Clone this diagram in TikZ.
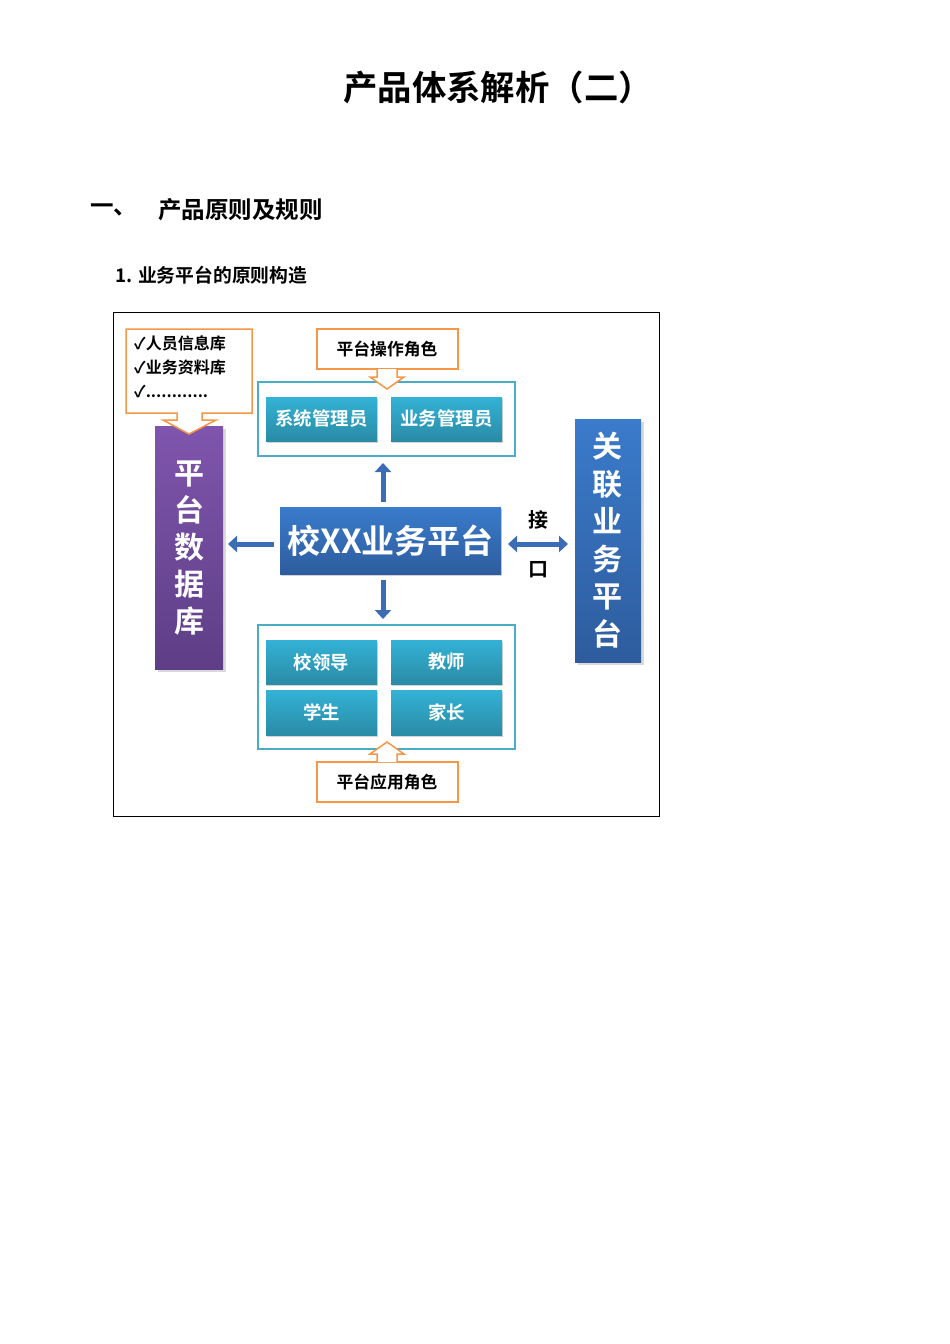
\documentclass[tikz,border=0pt]{standalone}
\usepackage{fontspec}
\setmainfont{Noto Sans CJK SC}
\newfontfamily\cjkb{Noto Sans CJK SC Bold}
\usetikzlibrary{shadows,arrows.meta}
\definecolor{orng}{HTML}{F79646}
\definecolor{tealc}{HTML}{4BACC6}
\definecolor{teal1}{HTML}{33B2D6}
\definecolor{teal2}{HTML}{2A8BA6}
\definecolor{blu1}{HTML}{3A7BCB}
\definecolor{blu2}{HTML}{2E5C9E}
\definecolor{pur1}{HTML}{7F55AD}
\definecolor{pur2}{HTML}{5E3E86}
\definecolor{arr}{HTML}{3A6DB5}
\tikzset{
 rolebox/.style={top color=teal1,bottom color=teal2,draw=none,drop shadow={opacity=0.35,shadow xshift=1pt,shadow yshift=-2pt},text=white,font=\cjkb\fontsize{18.4}{18.4}\selectfont},
 cont/.style={draw=tealc,line width=1.2pt},
 callout/.style={draw=orng,line width=1.5pt,fill=white,line join=miter},
 fatarrow/.style={draw=arr,line width=5pt,-{Triangle[length=9pt,width=16pt]}},
 lbl/.style={font=\cjkb, inner sep=0pt}
}
\begin{document}
\begin{tikzpicture}[x=1pt,y=-1pt]
\useasboundingbox (0,0) rectangle (950,1344);
\node[lbl,font=\cjkb\fontsize{34.4}{34.4}\selectfont] (title) at (498,87) {产品体系解析（二）};
\node[lbl,anchor=west,font=\cjkb\fontsize{23.5}{23.5}\selectfont] (h1) at (90,210) {一、};
\node[lbl,anchor=west,font=\cjkb\fontsize{23.5}{23.5}\selectfont] (h1b) at (158,210) {产品原则及规则};
\node[lbl,anchor=west,font=\cjkb\fontsize{18.8}{18.8}\selectfont] (h2) at (115,275) {1. 业务平台的原则构造};
\draw[line width=0.8pt] (113,312) rectangle (659,816);
% purple bar
\path[top color=pur1,bottom color=pur2,drop shadow={opacity=0.3}] (155,426) rectangle (223,669);
\node[lbl,text=white,font=\cjkb\fontsize{30}{37}\selectfont,align=center] (db) at (189,548) {平\\台\\数\\据\\库};
% top-left callout
\draw[callout] (126,329) -- (252,329) -- (252,413) -- (202,413) -- (202,420) -- (216,420) -- (189,434) -- (163,420) -- (177,420) -- (177,413) -- (126,413) -- cycle;
\node[lbl,anchor=north west,align=left,font=\cjkb\fontsize{16}{24}\selectfont] (list) at (134,336) {✓人员信息库\\✓业务资料库\\✓............};
% right bar
\path[top color=blu1,bottom color=blu2,drop shadow={opacity=0.3}] (575,419) rectangle (641,662);
\node[lbl,text=white,font=\cjkb\fontsize{30}{37.5}\selectfont,align=center] (rel) at (607,540) {关\\联\\业\\务\\平\\台};
% containers
\draw[cont] (258,382) rectangle (515,456);
\draw[cont] (258,625) rectangle (515,749);
\node[rolebox,minimum width=111pt,minimum height=44pt] (sys) at (321.5,419) {系统管理员};
\node[rolebox,minimum width=111pt,minimum height=44pt] (biz) at (446.5,419) {业务管理员};
\node[rolebox,minimum width=111pt,minimum height=44pt] (lead) at (321.5,662) {校领导};
\node[rolebox,minimum width=111pt,minimum height=44pt] (tea) at (446.5,662) {教师};
\node[rolebox,minimum width=111pt,minimum height=45pt] (stu) at (321.5,712.5) {学生};
\node[rolebox,minimum width=111pt,minimum height=45pt] (par) at (446.5,712.5) {家长};
% top callout
\draw[callout] (317,329) rectangle (458,369);
\draw[callout] (377,369) -- (377,377) -- (370,377) -- (387,389) -- (404,377) -- (397,377) -- (397,369);
\node[lbl,font=\cjkb\fontsize{16.8}{16.8}\selectfont] (op) at (387,349) {平台操作角色};
% bottom callout
\draw[callout] (317,762) rectangle (458,802);
\draw[callout] (377,762) -- (377,754) -- (370,754) -- (387,742) -- (404,754) -- (397,754) -- (397,762);
\node[lbl,font=\cjkb\fontsize{16.8}{16.8}\selectfont] (app) at (387,782) {平台应用角色};
% center
\node[top color=blu1,bottom color=blu2,minimum width=221pt,minimum height=67pt,drop shadow={opacity=0.35,shadow xshift=1pt,shadow yshift=-2pt},text=white,font=\cjkb\fontsize{33}{33}\selectfont] (ctr) at (390.5,540.5) {校XX业务平台};
% arrows
\coordinate (upE) at (383,463);
\coordinate (dnE) at (383,619);
\coordinate (lfE) at (228,544);
\draw[fatarrow] (383,502) -- (upE);
\draw[fatarrow] (383,580) -- (dnE);
\draw[fatarrow] (274,544) -- (lfE);
\draw[draw=arr,line width=5pt,{Triangle[length=9pt,width=16pt]}-{Triangle[length=9pt,width=16pt]}] (508,544) -- (568,544);
\node[lbl,font=\cjkb\fontsize{20}{20}\selectfont] (jie) at (538,520) {接};
\node[lbl,font=\cjkb\fontsize{20}{20}\selectfont] (kou) at (538,570) {口};
\end{tikzpicture}
\end{document}
